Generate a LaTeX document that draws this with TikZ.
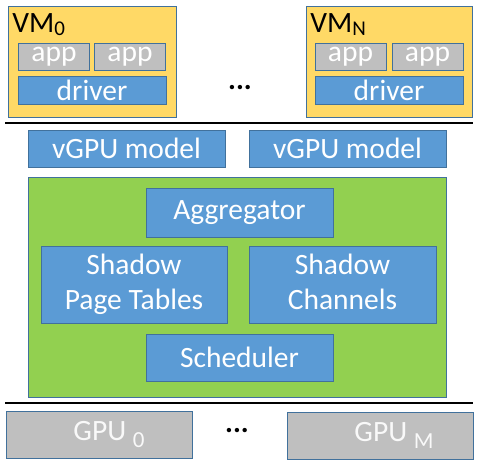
\documentclass[tikz,border=0pt]{standalone}
\usepackage{fontspec}
\setmainfont{Carlito}
\definecolor{boxblue}{HTML}{5B9BD5}
\definecolor{edgeblue}{HTML}{41719C}
\definecolor{vmyellow}{HTML}{FFD966}
\definecolor{appgrey}{HTML}{BFBFBF}
\definecolor{hostgreen}{HTML}{92D050}
\newcommand{\gpusub}[1]{{\fontsize{23}{23}\selectfont\raisebox{-7pt}{#1}}}
\newcommand{\vmsub}[1]{{\fontsize{21}{21}\selectfont\raisebox{-2.5pt}{#1}}}
\begin{document}
\begin{tikzpicture}[x=1pt,y=-1pt]
        \tikzstyle{every node}=[rectangle,inner sep=0pt,draw=edgeblue,line width=0.8pt,text=white,font=\fontsize{29.5}{35}\selectfont,align=center]
        \tikzstyle{vm}=[fill=vmyellow]
        \tikzstyle{vmlabel}=[draw=none,anchor=base west,text=black,text depth=0pt]
        \tikzstyle{app}=[fill=appgrey,minimum width=71pt,minimum height=27pt]
        \tikzstyle{blk}=[fill=boxblue]
        \tikzstyle{gpu}=[fill=appgrey,text=white!95!gray,minimum width=186pt,minimum height=47pt]
        \tikzstyle{sep}=[line width=2.2pt,black]
        \useasboundingbox (0,0) rectangle (479,470);
        % guest side
        \node[vm,minimum width=168pt,minimum height=111pt] (vm0) at (92,61.5) {};
        \node[vm,minimum width=166pt,minimum height=111pt] (vmn) at (389,61.5) {};
        \node[vmlabel] (vm0lbl) at (12,33) {VM\vmsub{0}};
        \node[vmlabel] (vmnlbl) at (310,33) {VM\vmsub{N}};
        \node[app] (app01) at (54,56.5) {app}; \node[app] (app02) at (130,56.5) {app};
        \node[app] (appn1) at (350.5,56.5) {app}; \node[app] (appn2) at (427.5,56.5) {app};
        \node[blk,minimum width=148pt,minimum height=28pt] (drv0) at (92,90) {driver};
        \node[blk,minimum width=148pt,minimum height=28pt] (drvn) at (389,90.5) {driver};
        \node[draw=none,text=black] (vmdots) at (240,88) {\textbf{...}};
        \coordinate (sepa) at (5,123); \coordinate (sepb) at (473,123);
        \draw[sep] (sepa) -- (sepb);
        % mediator
        \node[blk,minimum width=197pt,minimum height=37pt] (vgpu1) at (126.5,148.5) {vGPU model};
        \node[blk,minimum width=197pt,minimum height=37pt] (vgpu2) at (347.5,148.5) {vGPU model};
        \node[fill=hostgreen,minimum width=418pt,minimum height=220pt] (host) at (237,287) {};
        \node[blk,minimum width=187pt,minimum height=49pt] (aggr) at (239.5,212.5) {Aggregator};
        \node[blk,minimum width=186pt,minimum height=77pt] (spt) at (134,284.5) {Shadow\\Page Tables};
        \node[blk,minimum width=187pt,minimum height=77pt] (sch) at (342.5,284.5) {Shadow\\Channels\vphantom{g}};
        \node[blk,minimum width=187pt,minimum height=47pt] (sched) at (239.5,357.5) {Scheduler};
        \coordinate (sepc) at (5,403); \coordinate (sepd) at (473,403);
        \draw[sep] (sepc) -- (sepd);
        % physical
        \node[gpu] (gpu0) at (99.5,435) {\hspace{19pt}GPU \gpusub{0}};
        \node[gpu] (gpum) at (380,435.5) {\hspace{28pt}GPU \gpusub{M}};
        \node[draw=none,text=black] (gpudots) at (237,431) {\textbf{...}};
    \end{tikzpicture}
\end{document}
